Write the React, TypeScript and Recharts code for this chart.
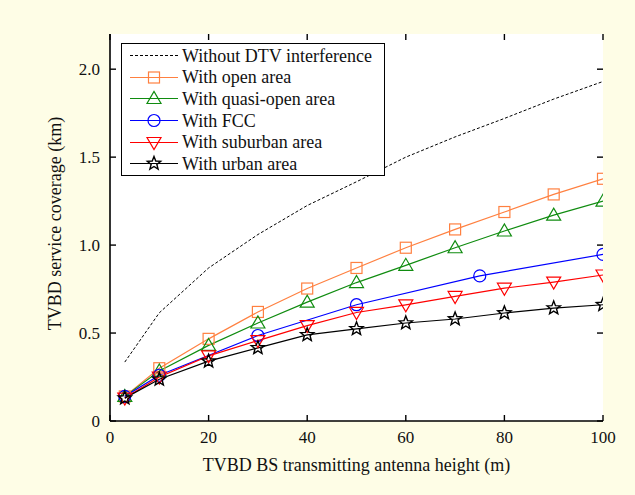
import { Line, LineChart, ReferenceLine, XAxis, YAxis } from 'recharts'

// antenna heights (m)
const heights = [3, 10, 20, 30, 40, 50, 60, 70, 80, 90, 100]
const fccHeights = [3, 10, 30, 50, 75, 100]

// coverage (km)
const withoutDtv = [0.335, 0.615, 0.87, 1.06, 1.225, 1.36, 1.5, 1.615, 1.72, 1.83, 1.93]
const openArea = [0.14, 0.3, 0.467, 0.62, 0.753, 0.87, 0.985, 1.089, 1.188, 1.288, 1.377]
const quasiOpen = [0.14, 0.284, 0.43, 0.557, 0.676, 0.787, 0.885, 0.985, 1.08, 1.17, 1.25]
const fcc = [0.14, 0.26, 0.486, 0.661, 0.825, 0.947]
const suburban = [0.13, 0.25, 0.37, 0.457, 0.542, 0.617, 0.66, 0.708, 0.755, 0.79, 0.83]
const urban = [0.13, 0.237, 0.34, 0.416, 0.49, 0.524, 0.557, 0.58, 0.614, 0.642, 0.661]

const xTicks = [0, 20, 40, 60, 80, 100]
const yTicks = [0, 0.5, 1, 1.5, 2]

const toPoints = (xs: number[], ys: number[]) => xs.map((x, i) => ({ x, y: ys[i] }))

const FONT = '"Liberation Serif", "Times New Roman", serif'
const BG = '#fefde6'
const ORANGE = '#ff8040'
const GREEN = '#108c10'

const X_MAX = 100
const Y_MAX = 2.2
// inward tick length (6px) in data units of each axis
const TICK_DX = (6 * X_MAX) / 492.5
const TICK_DY = (6 * Y_MAX) / 387

const axisLine = { stroke: '#000', strokeWidth: 1.6 }
const tickText = { fontSize: 17, fontFamily: FONT, fill: '#111' }

type Marker = 'square' | 'up' | 'circle' | 'down' | 'star' | 'none'

function MarkerShape({ kind, cx, cy, color }: { kind: Marker; cx: number; cy: number; color: string }) {
	if (kind === 'square') {
		return <rect x={cx - 5.5} y={cy - 5.5} width={11} height={11} fill="none" stroke={color} strokeWidth={1.2} />
	}
	if (kind === 'circle') {
		return <circle cx={cx} cy={cy} r={6} fill="none" stroke={color} strokeWidth={1.2} />
	}
	if (kind === 'up') {
		return (
			<polygon
				points={`${cx - 7},${cy + 5} ${cx + 7},${cy + 5} ${cx},${cy - 7}`}
				fill="none"
				stroke={color}
				strokeWidth={1.2}
			/>
		)
	}
	if (kind === 'down') {
		return (
			<polygon
				points={`${cx - 7},${cy - 5} ${cx + 7},${cy - 5} ${cx},${cy + 7}`}
				fill="none"
				stroke={color}
				strokeWidth={1.2}
			/>
		)
	}
	if (kind === 'star') {
		const pts: string[] = []
		for (let i = 0; i < 10; i++) {
			const r = i % 2 === 0 ? 7 : 3
			const a = -Math.PI / 2 + (i * Math.PI) / 5
			pts.push(`${cx + r * Math.cos(a)},${cy + r * Math.sin(a)}`)
		}
		return <polygon points={pts.join(' ')} fill="none" stroke={color} strokeWidth={1.4} />
	}
	return null
}

const dotFor = (kind: Marker, color: string) => (props: any) => (
	<g key={`${kind}-${props.index}`}>
		<MarkerShape kind={kind} cx={props.cx} cy={props.cy} color={color} />
	</g>
)

const series = [
	{ name: 'Without DTV interference', data: toPoints(heights, withoutDtv), color: '#000', marker: 'none' as Marker, dash: '3 2', width: 1 },
	{ name: 'With open area', data: toPoints(heights, openArea), color: ORANGE, marker: 'square' as Marker },
	{ name: 'With quasi-open area', data: toPoints(heights, quasiOpen), color: GREEN, marker: 'up' as Marker },
	{ name: 'With FCC', data: toPoints(fccHeights, fcc), color: '#0000ff', marker: 'circle' as Marker },
	{ name: 'With suburban area', data: toPoints(heights, suburban), color: '#ff0000', marker: 'down' as Marker },
	{ name: 'With urban area', data: toPoints(heights, urban), color: '#000', marker: 'star' as Marker },
]

// inward tick marks on all four sides of the frame
const tickSegments = [
	...xTicks.map((x) => [{ x, y: 0 }, { x, y: TICK_DY }]),
	...xTicks.map((x) => [{ x, y: Y_MAX }, { x, y: Y_MAX - TICK_DY }]),
	...yTicks.map((y) => [{ x: 0, y }, { x: TICK_DX, y }]),
	...yTicks.map((y) => [{ x: X_MAX, y }, { x: X_MAX - TICK_DX, y }]),
]

function LegendBox() {
	return (
		<div
			style={{
				position: 'absolute',
				left: 121,
				top: 43,
				width: 264,
				height: 133,
				boxSizing: 'border-box',
				border: '1.5px solid #000',
				background: '#fff',
				paddingTop: 1,
				fontFamily: FONT,
				fontSize: 18,
				color: '#111',
			}}
		>
			{series.map((s) => (
				<div key={s.name} style={{ display: 'flex', alignItems: 'center', height: 21.6 }}>
					<svg width={58} height={21} style={{ flex: 'none' }}>
						<line
							x1={8}
							x2={56}
							y1={10.5}
							y2={10.5}
							stroke={s.color}
							strokeWidth={s.width ?? 1.2}
							strokeDasharray={s.dash}
						/>
						<MarkerShape kind={s.marker} cx={32} cy={10.5} color={s.color} />
					</svg>
					<span style={{ marginLeft: 2, whiteSpace: 'nowrap', lineHeight: 1 }}>{s.name}</span>
				</div>
			))}
		</div>
	)
}

export default function App() {
	return (
		<div style={{ position: 'absolute', left: 0, top: 0, width: 635, height: 495, background: BG }}>
			{/* white plot background */}
			<div style={{ position: 'absolute', left: 110, top: 34, width: 493, height: 387, background: '#fff' }} />
			<div style={{ position: 'absolute', left: 0, top: 0 }}>
				<LineChart width={635} height={495} margin={{ top: 34, right: 32, left: 0, bottom: 0 }}>
					<XAxis
						xAxisId="b"
						dataKey="x"
						type="number"
						domain={[0, X_MAX]}
						ticks={xTicks}
						height={74}
						tickSize={0}
						tickMargin={10}
						tick={tickText}
						axisLine={axisLine}
						tickLine={false}
						allowDataOverflow
						label={{
							value: 'TVBD BS transmitting antenna height (m)',
							position: 'insideBottom',
							offset: 24,
							fontSize: 18,
							fontFamily: FONT,
							fill: '#111',
						}}
					/>
					<XAxis
						xAxisId="t"
						orientation="top"
						dataKey="x"
						type="number"
						domain={[0, X_MAX]}
						ticks={xTicks}
						height={0}
						tick={false}
						axisLine={axisLine}
						tickLine={false}
					/>
					<YAxis
						yAxisId="l"
						type="number"
						domain={[0, Y_MAX]}
						ticks={yTicks}
						width={110}
						tickSize={0}
						tickMargin={10}
						tick={tickText}
						tickFormatter={(v: number) => (v === 0 ? '0' : v.toFixed(1))}
						axisLine={axisLine}
						tickLine={false}
						allowDataOverflow
						label={{
							value: 'TVBD service coverage (km)',
							angle: -90,
							position: 'center',
							dy: -4,
							fontSize: 18,
							fontFamily: FONT,
							fill: '#111',
						}}
					/>
					<YAxis
						yAxisId="r"
						orientation="right"
						type="number"
						domain={[0, Y_MAX]}
						ticks={yTicks}
						width={0}
						tick={false}
						axisLine={axisLine}
						tickLine={false}
					/>
					{tickSegments.map((seg, i) => (
						<ReferenceLine
							key={`tk-${i}`}
							xAxisId="b"
							yAxisId="l"
							segment={seg}
							stroke="#000"
							strokeWidth={1.4}
							ifOverflow="visible"
						/>
					))}
					{series.map((s) => (
						<Line
							key={s.name}
							xAxisId="b"
							yAxisId="l"
							data={s.data}
							dataKey="y"
							name={s.name}
							type="linear"
							stroke={s.color}
							strokeWidth={s.width ?? 1.2}
							strokeDasharray={s.dash}
							dot={s.marker === 'none' ? false : dotFor(s.marker, s.color)}
							activeDot={false}
							isAnimationActive={false}
						/>
					))}
				</LineChart>
			</div>
			<LegendBox />
		</div>
	)
}
